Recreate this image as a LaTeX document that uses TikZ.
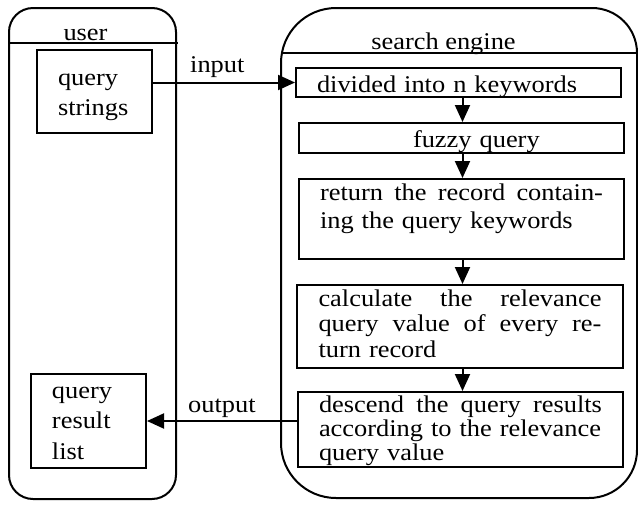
\documentclass[tikz,border=0pt]{standalone}
\usepackage{fontspec}
\setmainfont{Liberation Serif}[FakeStretch=1.1]
\usetikzlibrary{arrows.meta}
\tikzset{
  lw/.style={line width=2pt},
  boxr/.style={draw, lw, inner sep=0pt, align=left, text width=283pt, minimum width=325pt},
  boxl/.style={draw, lw, inner sep=0pt, align=left, text width=73pt, minimum width=115pt, font=\fontsize{24}{30.5}\selectfont},
  lbl/.style={inner sep=0pt, anchor=base, font=\fontsize{24}{25}\selectfont},
  arr/.style={lw, -{Triangle[length=17pt,width=15pt]}},
}
\begin{document}
\begin{tikzpicture}[x=1pt,y=-1pt]
\useasboundingbox (0,0) rectangle (638,504);
% containers
\draw[lw, rounded corners=24pt] (9,8) rectangle (176,499);
\draw[lw] (8,43) -- (178,43);
\draw[lw] (281,63) arc[start angle=180,end angle=270,radius=55] -- (592,8)
  arc[start angle=270,end angle=360,radius=45] -- (637,450)
  arc[start angle=0,end angle=90,radius=48] -- (336,498)
  arc[start angle=90,end angle=180,radius=55] -- cycle;
\draw[lw] (281,53) -- (637,53);
% titles
\node[lbl] (tuser) at (85.5,40) {user};
\node[lbl] (tse) at (443.5,49) {search engine};
% left boxes
\node[boxl, minimum height=83pt, text height=17pt, text depth=30pt] (qs) at (94.5,91.5) {query\\strings};
\node[boxl, minimum height=94pt, text height=17pt, text depth=63pt] (qrl) at (88.5,421) {query\\result\\list};
% right boxes
\node[boxr, minimum height=29pt, text height=22pt, text depth=3pt, font=\fontsize{24}{25}\selectfont] (b1) at (458.5,82.5) {divided into n keywords};
\node[boxr, minimum height=30pt, text height=22pt, text depth=4pt, font=\fontsize{24}{25}\selectfont] (b2) at (461.5,138) {\hspace*{93pt}fuzzy query};
\node[boxr, minimum height=80pt, text height=17pt, text depth=55pt, font=\fontsize{24}{28}\selectfont] (b3) at (461.5,219) {return\hfill the\hfill record\hfill contain-\\ing the query keywords};
\node[boxr, minimum height=83pt, minimum width=326pt, text height=17pt, text depth=58pt, font=\fontsize{24}{25.5}\selectfont] (b4) at (460,326.5) {calculate\hfill the\hfill relevance\\query\hfill value\hfill of\hfill every\hfill re-\\turn record};
\node[boxr, minimum height=75pt, text height=17pt, text depth=52pt, font=\fontsize{24}{24}\selectfont] (b5) at (460.5,429.5) {descend\hfill the\hfill query\hfill results\\according to the relevance\\query value};
% connectors
\coordinate (ax) at (462.5,0);
\draw[arr] (b1.west -| qs.east) -- (b1.west);
\node[lbl, anchor=base west] (tin) at (190,72) {input};
\draw[arr] (qrl.east -| b5.west) -- (qrl.east);
\node[lbl, anchor=base west] (tout) at (188,412) {output};
\draw[arr] (ax |- b1.south) -- (ax |- b2.north);
\draw[arr] (ax |- b2.south) -- (ax |- b3.north);
\draw[arr] (ax |- b3.south) -- (ax |- b4.north);
\draw[arr] (ax |- b4.south) -- (ax |- b5.north);
\end{tikzpicture}
\end{document}
